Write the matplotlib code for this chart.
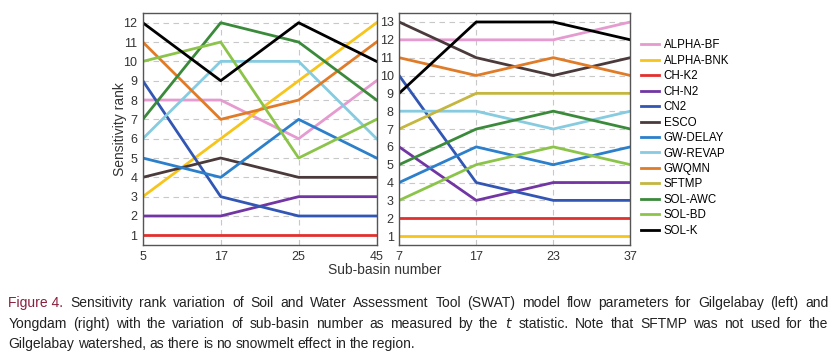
import matplotlib
matplotlib.use("Agg")
import matplotlib.pyplot as plt

plt.rcParams['font.family'] = ['Liberation Sans', 'DejaVu Sans']

# sub-basin numbers
left_x = ['5', '17', '25', '45']
right_x = ['7', '17', '23', '37']

params = ['ALPHA-BF', 'ALPHA-BNK', 'CH-K2', 'CH-N2', 'CN2', 'ESCO', 'GW-DELAY',
          'GW-REVAP', 'GWQMN', 'SFTMP', 'SOL-AWC', 'SOL-BD', 'SOL-K']
colors = ['#e59ad0', '#f7c41c', '#e2302e', '#7236a4', '#3256b4', '#4b3a3c', '#2c7fcb',
          '#86cbe0', '#e07b28', '#c4b63e', '#3b8a3b', '#8cc44a', '#000000']

# Gilgelabay (left), no SFTMP
gilgel = {
    'ALPHA-BF': [8, 8, 6, 9],
    'ALPHA-BNK': [3, 6, 9, 12],
    'CH-K2': [1, 1, 1, 1],
    'CH-N2': [2, 2, 3, 3],
    'CN2': [9, 3, 2, 2],
    'ESCO': [4, 5, 4, 4],
    'GW-DELAY': [5, 4, 7, 5],
    'GW-REVAP': [6, 10, 10, 6],
    'GWQMN': [11, 7, 8, 11],
    'SOL-AWC': [7, 12, 11, 8],
    'SOL-BD': [10, 11, 5, 7],
    'SOL-K': [12, 9, 12, 10],
}

# Yongdam (right)
yongdam = {
    'ALPHA-BF': [12, 12, 12, 13],
    'ALPHA-BNK': [1, 1, 1, 1],
    'CH-K2': [2, 2, 2, 2],
    'CH-N2': [6, 3, 4, 4],
    'CN2': [10, 4, 3, 3],
    'ESCO': [13, 11, 10, 11],
    'GW-DELAY': [4, 6, 5, 6],
    'GW-REVAP': [8, 8, 7, 8],
    'GWQMN': [11, 10, 11, 10],
    'SFTMP': [7, 9, 9, 9],
    'SOL-AWC': [5, 7, 8, 7],
    'SOL-BD': [3, 5, 6, 5],
    'SOL-K': [9, 13, 13, 12],
}

fig = plt.figure(figsize=(8.35, 3.53), dpi=100)
ax1 = fig.add_axes([0.171, 0.306, 0.280, 0.657])
ax2 = fig.add_axes([0.478, 0.306, 0.277, 0.657])


def draw(ax, xs, data, ymax):
    pos = range(len(xs))
    for p, c in zip(params, colors):
        if p in data:
            ax.plot(pos, data[p], color=c, lw=2, label=p)
    ax.set_xlim(0, len(xs) - 1)
    ax.set_ylim(0.5, ymax + 0.5)
    ax.set_xticks(list(pos))
    ax.set_xticklabels(xs)
    ax.set_yticks(range(1, ymax + 1))
    ax.grid(True, color='#c8c8c8', ls=(0, (5, 4)), lw=0.8)
    ax.tick_params(labelsize=9, length=0, colors='#333333', pad=4)
    for s in ax.spines.values():
        s.set_color('#555555')
        s.set_linewidth(1.0)


draw(ax1, left_x, gilgel, 12)
draw(ax2, right_x, yongdam, 13)
ax1.set_ylabel('Sensitivity rank', fontsize=10, color='#333333', labelpad=-3)
fig.text(0.461, 0.235, 'Sub-basin number', ha='center', va='center',
         fontsize=10, color='#333333')

handles, labels = ax2.get_legend_handles_labels()
fig.legend(handles, labels, loc='upper left', bbox_to_anchor=(0.755, 0.918),
           frameon=False, fontsize=8.3, handlelength=1.6, handletextpad=0.4,
           labelspacing=0.3)

# caption, first two lines justified by hand
cap = [
    ['Figure 4.'] + 'Sensitivity rank variation of Soil and Water Assessment Tool (SWAT) model flow parameters for Gilgelabay (left) and'.split(),
    'Yongdam (right) with the variation of sub-basin number as measured by the $\\it{t}$ statistic. Note that SFTMP was not used for the'.split(),
    'Gilgelabay watershed, as there is no snowmelt effect in the region.'.split(),
]
cap_y = [0.142, 0.082, 0.026]
x0, x1 = 0.010, 0.992
fig.canvas.draw()
r = fig.canvas.get_renderer()
for i, (words, y) in enumerate(zip(cap, cap_y)):
    ts = []
    for j, w in enumerate(words):
        col = '#8a1f3c' if (i == 0 and j == 0) else '#222222'
        ts.append(fig.text(0, y, w, fontsize=10, color=col, ha='left', va='center'))
    widths = [t.get_window_extent(r).width / fig.bbox.width for t in ts]
    if i < 2:
        gap = (x1 - x0 - sum(widths)) / (len(ts) - 1)
    else:
        gap = 0.0042
    x = x0
    for t, w in zip(ts, widths):
        t.set_x(x)
        x += w + gap

fig.savefig('out.png', dpi=100)
